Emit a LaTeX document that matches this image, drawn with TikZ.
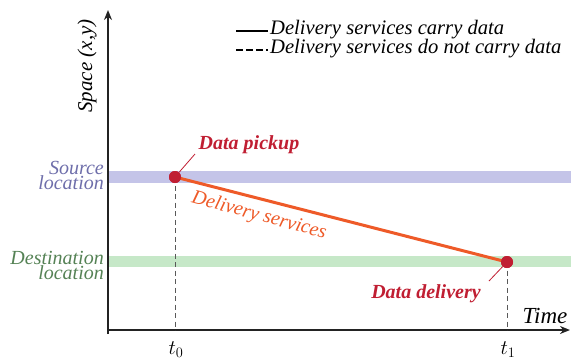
\documentclass[tikz,border=0pt]{standalone}
\usepackage{fontspec}
\setmainfont{Liberation Serif}
\usetikzlibrary{arrows.meta}
\definecolor{srcband}{RGB}{196,196,232}
\definecolor{dstband}{RGB}{198,232,200}
\definecolor{srctext}{RGB}{110,110,170}
\definecolor{dsttext}{RGB}{85,130,85}
\definecolor{evred}{RGB}{192,30,50}
\definecolor{deliv}{RGB}{238,90,40}
\definecolor{axisc}{RGB}{35,35,35}
\begin{document}
\begin{tikzpicture}[x=1pt,y=-1pt,
  axisline/.style={line width=1.8pt,draw=axisc,-{Stealth[length=10pt,width=8pt]}},
  evdot/.style={circle,fill=evred,inner sep=0pt,minimum size=12pt},
  evlabel/.style={text=evred,font=\fontsize{20}{21}\selectfont\bfseries\itshape},
  drop/.style={draw=black!65,line width=0.9pt,dash pattern=on 5pt off 3.5pt},
  loclabel/.style={font=\fontsize{20}{15}\selectfont\itshape,align=right,anchor=east,inner sep=0pt},
  legendtext/.style={font=\fontsize{20.6}{22}\selectfont\itshape,anchor=west,inner sep=0pt}]
\useasboundingbox (0,0) rectangle (571,360);
% bands
\fill[srcband] (108,171) rectangle (571,183);
\fill[dstband] (108,256) rectangle (571,267);
% axes
\coordinate (ytop) at (108,10);
\coordinate (xend) at (570,330);
\draw[axisline] (108,334) -- (ytop);
\draw[axisline] (107,330) -- (xend);
% points
\node[evdot] (pick) at (175,177) {};
\node[evdot] (dlv) at (507,262) {};
\coordinate (t0b) at (175,330);
\coordinate (t1b) at (507,330);
\draw[drop] (pick.center) -- (t0b);
\draw[drop] (dlv.center) -- (t1b);
\draw[deliv,line width=3pt] (pick.center) -- (dlv.center);
\node[evdot] at (175,177) {};
\node[evdot] at (507,262) {};
% labels
\node[evlabel] (picklbl) at (249,145) {Data pickup};
\node[evlabel] (dlvlbl) at (426,294) {Data delivery};
\draw[evred,line width=0.8pt] (195,154) -- (pick);
\draw[evred,line width=0.8pt] (489,281) -- (dlv);
\node[text=deliv,font=\fontsize{20}{21}\selectfont\itshape,rotate=-15] (dslbl) at (259,216) {Delivery services};
\node[text=srctext,loclabel] (src) at (104,175) {Source\\location};
\node[text=dsttext,loclabel] (dst) at (104,265) {Destination\\location};
\node[rotate=90,font=\fontsize{21}{22}\selectfont\itshape] (space) at (87,66) {Space (x,y)};
\node[font=\fontsize{23}{24}\selectfont\itshape] (time) at (545,316) {Time};
\node[font=\fontsize{22}{22}\selectfont] (t0) at (176,350) {$t_0$};
\node[font=\fontsize{22}{22}\selectfont] (t1) at (508,350) {$t_1$};
% legend
\coordinate (l1a) at (236,31);
\coordinate (l1b) at (268,31);
\coordinate (l2a) at (236,50);
\coordinate (l2b) at (268,50);
\draw[line width=2.6pt] (l1a) -- (l1b);
\draw[line width=2.6pt,dash pattern=on 7.3pt off 2.7pt] (l2a) -- (l2b);
\node[legendtext] (lg1) at (270,29.5) {Delivery services carry data};
\node[legendtext] (lg2) at (270,49) {Delivery services do not carry data};
\end{tikzpicture}
\end{document}
